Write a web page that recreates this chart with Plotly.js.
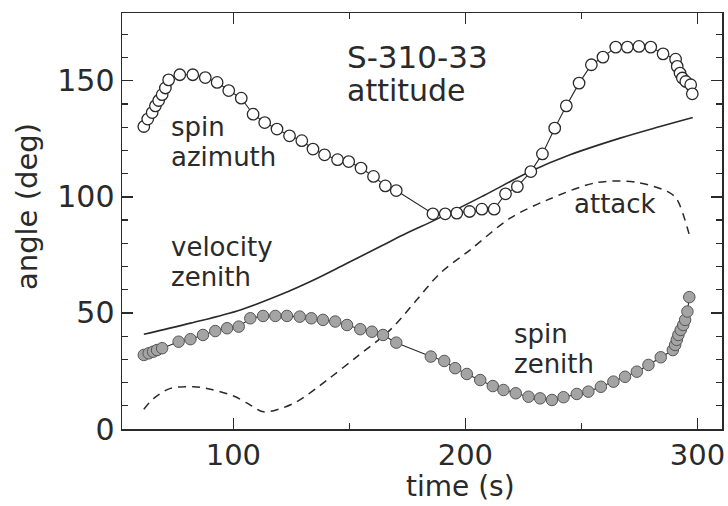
<!DOCTYPE html>
<html>
<head>
<meta charset="utf-8">
<script src="https://cdn.plot.ly/plotly-3.0.1.min.js"></script>
<style>html,body{margin:0;padding:0;background:#fff;}#chart{width:728px;height:506px;}</style>
</head>
<body>
<div id="chart"></div>
<script>
// spin azimuth (open circles)
const azTime = [61.4, 63.1, 65.0, 66.4, 67.8, 69.3, 70.7, 72.1, 76.9, 82.5, 87.9, 93.0, 98.0, 103.4, 108.5, 113.5, 118.8, 124.2, 129.5, 134.3, 139.3, 144.9, 149.7, 155.0, 160.4, 165.5, 170.2, 186.0, 191.3, 196.3, 201.8, 207.1, 212.4, 217.3, 222.4, 228.2, 233.2, 238.5, 243.5, 249.0, 254.3, 259.3, 264.8, 269.8, 274.8, 279.9, 285.2, 290.6, 291.3, 292.5, 293.5, 295.0, 297.1, 297.8];
const azAngle = [130.3, 133.5, 136.3, 139.2, 141.5, 144.0, 146.9, 150.4, 152.6, 152.6, 151.4, 149.3, 145.8, 142.5, 135.6, 132.0, 129.2, 126.3, 124.2, 120.6, 118.1, 116.0, 115.2, 112.4, 108.8, 104.7, 102.7, 92.7, 92.7, 93.0, 93.7, 94.7, 94.7, 101.3, 104.4, 110.9, 118.5, 129.6, 139.2, 149.0, 156.9, 160.2, 164.5, 164.5, 164.8, 164.5, 161.6, 159.3, 156.2, 153.3, 151.2, 149.7, 148.3, 144.4];

// spin zenith (filled circles)
const zenTime = [61.4, 63.5, 65.4, 67.1, 69.3, 76.4, 81.5, 86.9, 92.2, 97.3, 102.3, 107.3, 112.8, 118.1, 123.1, 128.6, 133.6, 138.6, 143.9, 149.0, 154.7, 159.7, 164.5, 170.2, 185.1, 190.9, 195.6, 200.6, 206.4, 211.8, 216.4, 221.7, 227.2, 232.2, 237.3, 242.3, 248.0, 253.0, 258.4, 263.8, 268.8, 273.9, 278.9, 284.2, 289.4, 290.4, 291.1, 291.8, 292.8, 293.9, 294.7, 295.7, 296.5];
const zenAngle = [31.9, 32.6, 33.3, 34.0, 34.8, 37.6, 38.7, 40.5, 42.2, 43.4, 44.1, 47.7, 48.7, 48.7, 48.7, 48.4, 47.7, 47.0, 46.3, 44.8, 43.0, 41.9, 40.5, 37.2, 31.2, 29.3, 26.2, 23.7, 21.1, 18.5, 16.8, 15.4, 13.9, 13.2, 12.5, 13.7, 15.1, 16.1, 18.2, 20.4, 22.5, 24.7, 27.6, 30.9, 34.0, 36.2, 38.4, 40.5, 42.7, 44.8, 47.0, 50.6, 56.8];

// velocity zenith (solid line)
const velTime = [61.4, 81.5, 103, 120.2, 134.6, 149, 163.3, 174.8, 187.7, 208, 227.9, 245.1, 266.7, 283.9, 298];
const velAngle = [40.8, 45.6, 51.3, 57.8, 64.2, 71.4, 78.6, 84.4, 90.4, 100.6, 110.9, 118.1, 125.3, 130.3, 134.2];

// attack (dashed line)
const attTime = [61.4, 65.7, 72.9, 82.9, 90.1, 100.1, 107.3, 112.4, 117.4, 127.4, 140.4, 153.3, 167.6, 178.5, 189.1, 202.1, 219.3, 235.4, 256.9, 274.1, 287.8, 291.3, 297.1];
const attAngle = [8.5, 13.2, 17.5, 18.2, 17.1, 14.2, 10.3, 7.5, 7.9, 11.8, 21.1, 31.2, 42.7, 55.0, 67.1, 77.2, 90.8, 98.7, 106.2, 106.2, 101.9, 98.7, 81.5];

const labelText = ["S-310-33", "attitude", "spin", "azimuth", "velocity", "zenith", "attack", "spin", "zenith"];
const labelX = [148.2, 148.2, 72.1, 72.1, 72.1, 72.1, 246.1, 220.0, 220.0];
const labelY = [160.1, 145.7, 130.3, 117.3, 78.4, 65.5, 96.8, 40.8, 27.9];
const labelSize = [31, 30, 26, 26, 26, 26, 26, 26, 26];

const xTitle = 'time (s)';
const yTitle = 'angle (deg)';

const FONT = '"DejaVu Sans", sans-serif';
const INK = '#2a2a2a';

const traces = [
  {x: velTime, y: velAngle, mode: 'lines', line: {color: INK, width: 1.6, shape: 'spline', smoothing: 1}, hoverinfo: 'skip'},
  {x: attTime, y: attAngle, mode: 'lines', line: {color: INK, width: 1.5, dash: '8px,6px', shape: 'spline', smoothing: 0.9}, hoverinfo: 'skip'},
  {x: azTime, y: azAngle, mode: 'lines+markers', line: {color: INK, width: 1.1},
   marker: {symbol: 'circle', size: 11.5, color: '#fff', line: {color: INK, width: 1.3}}},
  {x: zenTime, y: zenAngle, mode: 'lines+markers', line: {color: INK, width: 1.1},
   marker: {symbol: 'circle', size: 11.5, color: '#a4a4a4', line: {color: '#555', width: 1}}}
];

const annotations = labelText.map((t, i) => ({
  x: labelX[i], y: labelY[i], xref: 'x', yref: 'y', text: t, showarrow: false,
  xanchor: 'left', yanchor: 'middle', font: {family: FONT, size: labelSize[i], color: INK}
}));

const L = 122, R = 6, T = 13, B = 77, W = 728, H = 506;
const pw = W - L - R, ph = H - T - B;

// axis titles placed as in the reference (off-centre)
annotations.push({
  x: (460.5 - L) / pw, y: (H - B - 505) / ph, xref: 'paper', yref: 'paper', text: xTitle, showarrow: false,
  xanchor: 'center', yanchor: 'bottom', font: {family: FONT, size: 28, color: INK}
});
annotations.push({
  x: (27 - L) / pw, y: (H - B - 207) / ph, xref: 'paper', yref: 'paper', text: yTitle, showarrow: false, textangle: -90,
  xanchor: 'center', yanchor: 'middle', font: {family: FONT, size: 29, color: INK}
});

const layout = {
  width: W, height: H,
  margin: {l: L, r: R, t: T, b: B, pad: 0},
  paper_bgcolor: '#fff', plot_bgcolor: '#fff',
  showlegend: false,
  font: {family: FONT, color: INK},
  xaxis: {
    range: [52, 310.6], showgrid: false, zeroline: false,
    showline: true, linecolor: INK, linewidth: 1.5, mirror: 'allticks',
    ticks: 'inside', ticklen: 11, tickwidth: 1.3, tickcolor: INK, dtick: 100, tick0: 0,
    minor: {dtick: 50, ticks: 'inside', ticklen: 6, tickwidth: 1.2, tickcolor: INK, showgrid: false},
    tickfont: {family: FONT, size: 29, color: INK},
    ticklabelstandoff: 0
  },
  yaxis: {
    range: [0, 179.2], showgrid: false, zeroline: false,
    showline: true, linecolor: INK, linewidth: 1.5, mirror: 'allticks',
    ticks: 'inside', ticklen: 11, tickwidth: 1.3, tickcolor: INK, dtick: 50, tick0: 0,
    minor: {dtick: 10, ticks: 'inside', ticklen: 6, tickwidth: 1.2, tickcolor: INK, showgrid: false},
    tickfont: {family: FONT, size: 30, color: INK}
  },
  annotations: annotations
};

Plotly.newPlot('chart', traces, layout, {staticPlot: true, displayModeBar: false});
</script>
</body>
</html>
